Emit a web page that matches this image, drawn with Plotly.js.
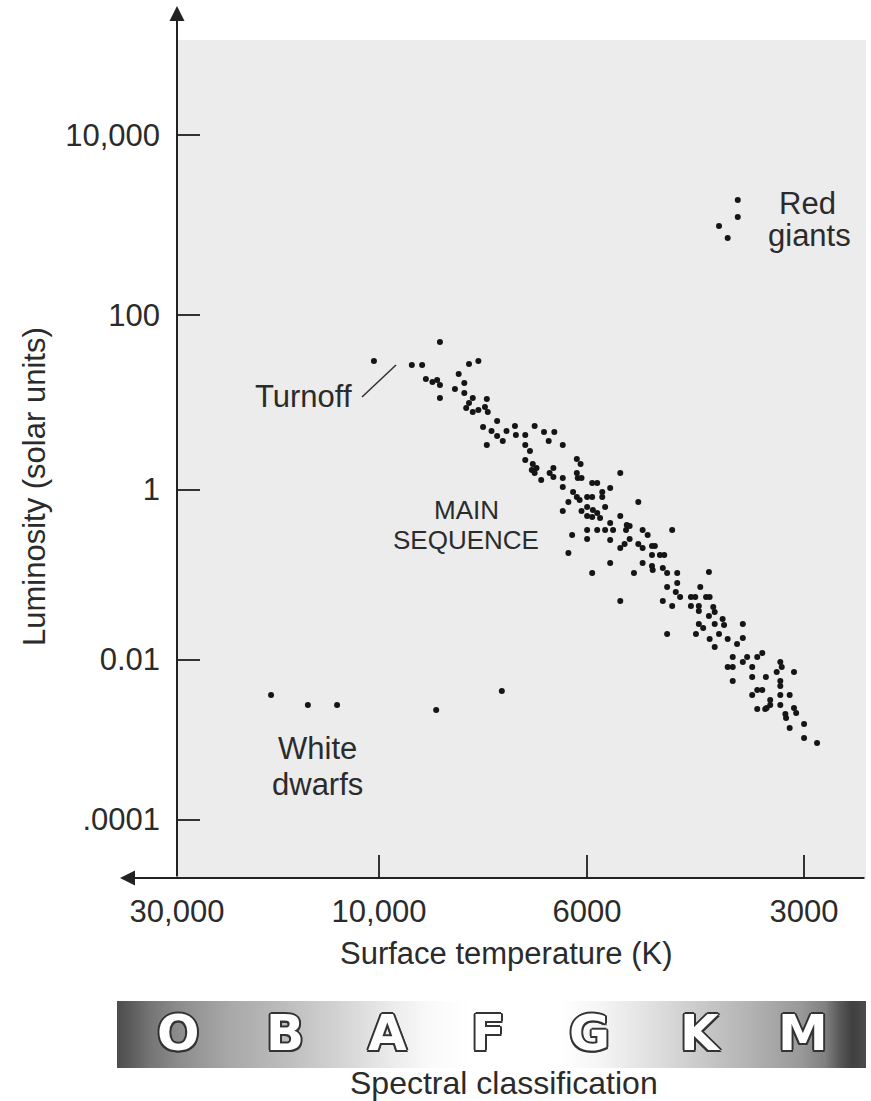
<!DOCTYPE html>
<html><head><meta charset="utf-8">
<script src="https://cdn.plot.ly/plotly-3.0.1.min.js"></script>
<style>html,body{margin:0;padding:0;background:#fff;}#chart{width:871px;height:1101px;}</style>
</head><body><div id="chart"></div>
<script>
// ---------------- data ----------------
// axis tick values (surface temperature in K, luminosity in solar units)
const xTickTemps = [30000, 10000, 6000, 3000];
const xTickText  = ['30,000', '10,000', '6000', '3000'];
const yTickLums  = [10000, 100, 1, 0.01, 0.0001];
const yTickText  = ['10,000', '100', '1', '0.01', '.0001'];

// stars: log10(surface temperature / K) and log10(luminosity / L_sun)
const mainSeqLogTemp = [
  4.012, 3.935, 3.965, 3.954, 3.950, 3.943, 3.938, 3.935, 3.935, 3.904, 3.894, 3.915, 3.909, 3.919, 3.909, 3.900, 3.885, 3.904, 3.907, 3.900, 3.894, 3.887, 3.884,
  3.874, 3.889, 3.880, 3.874, 3.868, 3.885, 3.864, 3.855, 3.854, 3.844,
  3.834, 3.824, 3.813, 3.819, 3.844, 3.839, 3.804, 3.844, 3.836, 3.832,
  3.837, 3.834, 3.827, 3.818, 3.814, 3.814, 3.804, 3.804, 3.789, 3.785,
  3.789, 3.788, 3.784, 3.771, 3.764, 3.732, 3.746, 3.757, 3.757, 3.793,
  3.789, 3.786, 3.778, 3.771, 3.798, 3.804, 3.784, 3.778, 3.770, 3.778,
  3.771, 3.764, 3.760, 3.753, 3.732, 3.746, 3.723, 3.707, 3.778, 3.764,
  3.753, 3.742, 3.724, 3.719, 3.794, 3.778, 3.746, 3.732, 3.726, 3.719,
  3.707, 3.701, 3.701, 3.694, 3.688, 3.684, 3.688, 3.677, 3.671, 3.660,
  3.798, 3.746, 3.701, 3.688, 3.687, 3.673, 3.667, 3.653, 3.771, 3.713,
  3.667, 3.653, 3.609, 3.732, 3.673, 3.660, 3.655, 3.649, 3.634, 3.628,
  3.621, 3.613, 3.608, 3.634, 3.623, 3.623, 3.603, 3.601, 3.609, 3.623,
  3.617, 3.601, 3.590, 3.588, 3.562, 3.667, 3.627, 3.608, 3.595, 3.583,
  3.570, 3.562, 3.601, 3.576, 3.562, 3.556, 3.542, 3.535, 3.583, 3.576,
  3.549, 3.576, 3.549, 3.530, 3.510, 3.508, 3.515, 3.491, 3.510, 3.510,
  3.542, 3.535, 3.549, 3.510, 3.497, 3.524, 3.524, 3.529, 3.542, 3.531,
  3.510, 3.491, 3.488, 3.503, 3.502, 3.477, 3.497, 3.477, 3.459
];
const mainSeqLogLum = [
  1.473, 1.691, 1.427, 1.427, 1.266, 1.232, 1.255, 1.198, 1.049, 1.438, 1.473, 1.324, 1.221, 1.152, 1.106, 1.049, 1.037, 0.991, 0.934, 0.888, 0.911, 0.946, 0.888,
  0.785, 0.716, 0.671, 0.613, 0.556, 0.510, 0.671, 0.728, 0.625, 0.625,
  0.728, 0.659, 0.659, 0.556, 0.510, 0.441, 0.510, 0.338, 0.292, 0.247,
  0.224, 0.189, 0.109, 0.189, 0.247, 0.143, 0.132, 0.029, 0.350, 0.292,
  0.189, 0.132, 0.132, 0.075, 0.075, 0.189, 0.017, -0.029, -0.088, -0.029,
  -0.088, -0.124, -0.088, -0.088, -0.147, -0.253, -0.253, -0.206, -0.241, -0.312,
  -0.324, -0.276, -0.335, -0.206, -0.312, -0.394, -0.418, -0.147, -0.476, -0.476,
  -0.476, -0.476, -0.476, -0.429, -0.535, -0.582, -0.594, -0.688, -0.641, -0.582,
  -0.641, -0.688, -0.476, -0.535, -0.665, -0.665, -0.771, -0.771, -0.771, -0.476,
  -0.747, -0.865, -0.865, -0.900, -0.947, -0.924, -0.982, -0.982, -0.982, -0.982,
  -1.147, -1.100, -0.971, -1.312, -1.312, -1.371, -1.206, -1.265, -1.265, -1.265,
  -1.147, -1.265, -1.265, -1.371, -1.371, -1.429, -1.382, -1.441, -1.488, -1.582,
  -1.629, -1.582, -1.524, -1.594, -1.582, -1.700, -1.700, -1.759, -1.700, -1.759,
  -1.818, -1.747, -1.853, -1.971, -2.031, -1.971, -1.971, -1.924, -2.094, -2.094,
  -2.094, -2.269, -2.219, -2.219, -2.031, -2.094, -2.156, -2.156, -2.269, -2.331,
  -2.381, -2.381, -2.444, -2.444, -2.444, -2.506, -2.569, -2.606, -2.619, -2.619,
  -2.569, -2.606, -2.669, -2.681, -2.731, -2.806, -2.856, -2.981, -3.044
];
const giantsLogTemp = [3.569, 3.569, 3.595, 3.583];
const giantsLogLum  = [3.278, 3.089, 2.989, 2.856];
const dwarfsLogTemp = [4.255, 4.168, 4.099, 3.939, 3.869];
const dwarfsLogLum  = [-2.444, -2.569, -2.569, -2.631, -2.394];

const spectralClasses = ['O', 'B', 'A', 'F', 'G', 'K', 'M'];

// ---------------- layout constants (pixels) ----------------
const W = 871, H = 1101, ML = 100, MR = 5;
const PLOT = {x0: 177, x1: 866, y0: 40, y1: 878};
const X_TICK_PX = [177, 379, 587, 804];              // schematic (non-uniform) temperature scale
const Y_TICK_PX = [135, 315, 489.5, 659.5, 819.5];   // schematic luminosity scale
const BAR = {x0: 117, x1: 866, y0: 1001, y1: 1068};
const CLASS_PX = [178, 285, 387, 488, 589, 700, 803];
const GRAD_PX    = [117, 130, 150, 178, 230, 285, 340, 390, 430, 470, 560, 600, 650, 700, 750, 800, 825, 840, 852, 866];
const GRAD_LEVEL = [0.30, 0.36, 0.46, 0.55, 0.66, 0.74, 0.83, 0.92, 0.98, 1.0, 1.0, 0.96, 0.88, 0.79, 0.70, 0.60, 0.50, 0.34, 0.25, 0.30];

const FONT = 'Liberation Sans, Arial, Helvetica, sans-serif';
const TXT = '#2b2b2b';

const fx = px => (px - ML) / (W - ML - MR);
const fy = py => (H - py) / H;

function piecewise(v, knots, pxs) {
  let i = 0;
  while (i < knots.length - 2 && v < knots[i + 1]) i++;
  const t = (v - knots[i]) / (knots[i + 1] - knots[i]);
  return pxs[i] + t * (pxs[i + 1] - pxs[i]);
}
const xKnots = xTickTemps.map(Math.log10);
const yKnots = yTickLums.map(Math.log10);
const tempToX = lt => piecewise(lt, xKnots, X_TICK_PX);
const lumToY  = ll => piecewise(ll, yKnots, Y_TICK_PX);

const dot = {size: 6, color: '#151515'};
function starTrace(lt, ll, name) {
  return {type: 'scatter', mode: 'markers', name: name,
    x: lt.map(tempToX), y: ll.map(lumToY), marker: dot,
    xaxis: 'x', yaxis: 'y', hoverinfo: 'skip', cliponaxis: false};
}

const traces = [
  {type: 'heatmap', x: GRAD_PX, y: [0.5], z: [GRAD_LEVEL], zmin: 0, zmax: 1,
   colorscale: [[0, '#000000'], [1, '#ffffff']], zsmooth: 'best', showscale: false,
   xaxis: 'x2', yaxis: 'y2', hoverinfo: 'skip'},
  starTrace(mainSeqLogTemp, mainSeqLogLum, 'Main sequence'),
  starTrace(giantsLogTemp, giantsLogLum, 'Red giants'),
  starTrace(dwarfsLogTemp, dwarfsLogLum, 'White dwarfs')
];

function label(text, px, py, size, extra) {
  return Object.assign({text: text, x: fx(px), y: fy(py), xref: 'paper', yref: 'paper',
    showarrow: false, xanchor: 'center', yanchor: 'middle',
    font: {family: FONT, size: size, color: TXT}}, extra || {});
}

const annotations = [
  // axis arrows
  {text: '', x: fx(PLOT.x0), y: fy(6), xref: 'paper', yref: 'paper', showarrow: true,
   ax: 0, ay: PLOT.y1 - 6, arrowhead: 2, arrowsize: 1.5, arrowwidth: 2, arrowcolor: '#222'},
  {text: '', x: fx(120), y: fy(PLOT.y1), xref: 'paper', yref: 'paper', showarrow: true,
   ax: PLOT.x1 - 120, ay: 0, arrowhead: 2, arrowsize: 1.5, arrowwidth: 2, arrowcolor: '#222'},
  // titles
  label('Luminosity (solar units)', 34, 487, 31, {textangle: -90}),
  label('Surface temperature (K)', 506, 953, 31),
  label('Spectral classification', 504, 1083, 32),
  // region labels
  label('Red', 807, 204, 31),
  label('giants', 809, 236, 31),
  label('Turnoff', 303, 396, 31),
  label('MAIN', 466, 510, 26),
  label('SEQUENCE', 466, 540, 26),
  label('White', 317, 749, 31),
  label('dwarfs', 317, 784, 31)
];
const outline = '2px 0 0 #333, -2px 0 0 #333, 0 2px 0 #333, 0 -2px 0 #333, 1.5px 1.5px 0 #333, -1.5px -1.5px 0 #333, 1.5px -1.5px 0 #333, -1.5px 1.5px 0 #333';
spectralClasses.forEach((c, i) => {
  annotations.push({text: '<b>' + c + '</b>', x: fx(CLASS_PX[i]), y: fy(1033), xref: 'paper', yref: 'paper',
    showarrow: false, xanchor: 'center', yanchor: 'middle',
    font: {family: 'DejaVu Sans, Verdana, sans-serif', size: 50, color: '#ffffff', weight: 'bold', shadow: outline}});
});

const layout = {
  width: W, height: H,
  margin: {l: ML, r: MR, t: 0, b: 0, pad: 0},
  paper_bgcolor: '#ffffff', plot_bgcolor: '#ececec',
  showlegend: false,
  font: {family: FONT, color: TXT},
  xaxis: {domain: [fx(PLOT.x0), fx(PLOT.x1)], range: [PLOT.x0, PLOT.x1], anchor: 'y',
    tickmode: 'array', tickvals: xKnots.map(tempToX), ticktext: xTickText,
    ticks: 'inside', ticklen: 23, tickwidth: 2, tickcolor: '#333',
    showline: false, showgrid: false, zeroline: false, ticklabelstandoff: 12,
    tickfont: {family: FONT, size: 31, color: TXT}, fixedrange: true},
  yaxis: {domain: [fy(PLOT.y1), fy(PLOT.y0)], range: [PLOT.y1, PLOT.y0], anchor: 'x',
    tickmode: 'array', tickvals: yKnots.map(lumToY), ticktext: yTickText,
    ticks: 'inside', ticklen: 23, tickwidth: 2, tickcolor: '#333',
    showline: false, showgrid: false, zeroline: false, ticklabelstandoff: 16,
    tickfont: {family: FONT, size: 31, color: TXT}, fixedrange: true},
  xaxis2: {domain: [fx(BAR.x0), fx(BAR.x1)], range: [BAR.x0, BAR.x1], anchor: 'y2', visible: false},
  yaxis2: {domain: [fy(BAR.y1), fy(BAR.y0)], range: [0, 1], anchor: 'x2', visible: false},
  shapes: [
    {type: 'line', xref: 'paper', yref: 'paper', x0: fx(362), y0: fy(397), x1: fx(396), y1: fy(365),
     line: {color: '#333', width: 1.6}}
  ],
  annotations: annotations
};

Plotly.newPlot('chart', traces, layout, {displayModeBar: false, staticPlot: true});
</script>
</body></html>
